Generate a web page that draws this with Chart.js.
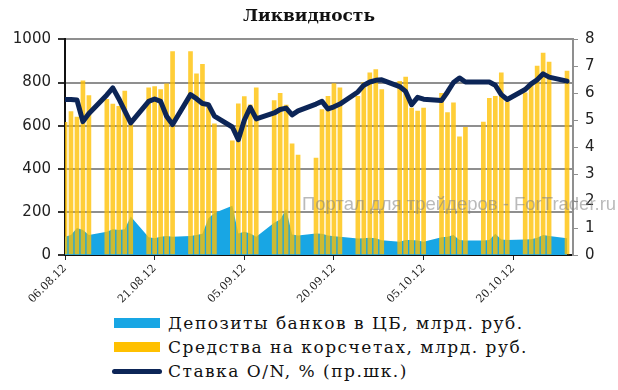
<!DOCTYPE html>
<html>
<head>
<meta charset="utf-8">
<script src="https://cdn.jsdelivr.net/npm/chart.js@4"></script>
<style>
  body { margin: 0; background: #fff; }
  #wrap { position: relative; width: 618px; height: 390px; }
  #box { position: absolute; left: 0; top: 0; width: 618px; height: 310px; }
  #legend { position: absolute; left: 112px; top: 311px; font-family: 'DejaVu Serif', serif; font-size: 17px; letter-spacing: 1.5px; color: #111; }
  .row { display: flex; align-items: center; height: 24px; }
  .sw { width: 50px; margin-right: 6px; display: flex; justify-content: center; }
</style>
</head>
<body>
<div id="wrap">
  <div id="box"><canvas id="liqChart"></canvas></div>
  <div id="legend"></div>
</div>
<script>
// Рабочие дни
const days = [
  '06.08.12', '07.08.12', '08.08.12', '09.08.12', '10.08.12',
  '13.08.12', '14.08.12', '15.08.12', '16.08.12', '17.08.12',
  '20.08.12', '21.08.12', '22.08.12', '23.08.12', '24.08.12',
  '27.08.12', '28.08.12', '29.08.12', '30.08.12', '31.08.12',
  '03.09.12', '04.09.12', '05.09.12', '06.09.12', '07.09.12',
  '10.09.12', '11.09.12', '12.09.12', '13.09.12', '14.09.12',
  '17.09.12', '18.09.12', '19.09.12', '20.09.12', '21.09.12',
  '24.09.12', '25.09.12', '26.09.12', '27.09.12', '28.09.12',
  '01.10.12', '02.10.12', '03.10.12', '04.10.12', '05.10.12',
  '08.10.12', '09.10.12', '10.10.12', '11.10.12', '12.10.12',
  '15.10.12', '16.10.12', '17.10.12', '18.10.12', '19.10.12',
  '22.10.12', '23.10.12', '24.10.12', '25.10.12', '26.10.12',
  '29.10.12'
];

// Депозиты банков в ЦБ, млрд. руб.
const deposits = [
  85, 93, 125, 116, 93,
  108, 120, 116, 120, 178,
  82, 78, 85, 88, 85,
  88, 93, 98, 170, 195,
  228, 100, 108, 100, 85,
  150, 165, 212, 95, 90,
  100, 98, 90, 87, 85,
  77, 78, 80, 78, 68,
  62, 70, 70, 67, 62,
  82, 85, 93, 70, 67,
  67, 70, 98, 72, 70,
  72, 73, 80, 93, 88,
  78
];

// Средства на корсчетах, млрд. руб.
const balances = [
  615, 665, 640, 808, 740,
  722, 700, 690, 760, 605,
  775, 781, 767, 794, 943,
  943, 840, 884, 698, 608,
  530, 701, 735, 696, 775,
  716, 750, 695, 516, 463,
  449, 674, 736, 795, 775,
  736, 800, 845, 860, 767,
  806, 825, 682, 667, 682,
  750, 660, 706, 548, 592,
  616, 727, 736, 845, 710,
  752, 794, 876, 937, 895,
  853
];

// Ставка O/N, %
const rate = [
  5.77, 5.77, 5.75, 4.95, 5.25,
  5.94, 6.2, 5.8, 5.35, 4.9,
  5.7, 5.79, 5.7, 5.15, 4.84,
  5.95, 5.8, 5.62, 5.58, 5.15,
  4.75, 4.28, 5.0, 5.48, 5.05,
  5.27, 5.4, 5.45, 5.2, 5.35,
  5.6, 5.7, 5.42, 5.5, 5.6,
  6.05, 6.3, 6.42, 6.48, 6.5,
  6.25, 6.07, 5.58, 5.85, 5.78,
  5.73, 6.05, 6.4, 6.57, 6.42,
  6.42, 6.42, 6.3, 5.95, 5.77,
  6.14, 6.35, 6.5, 6.72, 6.6,
  6.45
];

// Подписи оси X (каждые 15 дней)
const tickLabels = ['06.08.12', '21.08.12', '05.09.12', '20.09.12', '05.10.12', '20.10.12'];
const lastDay = '30.10.12';

// номер календарного дня от начала
function dayNo(s) {
  const [d, m, y] = s.split('.').map(Number);
  const [d0, m0, y0] = tickLabels[0].split('.').map(Number);
  return Math.round((Date.UTC(2000 + y, m - 1, d) - Date.UTC(2000 + y0, m0 - 1, d0)) / 86400000);
}
const pts = arr => arr.map((v, i) => ({ x: dayNo(days[i]), y: v }));

const watermark = {
  id: 'watermark',
  afterDatasetsDraw(chart) {
    const ctx = chart.ctx;
    ctx.save();
    ctx.font = '18.5px "Liberation Sans", Arial, sans-serif';
    ctx.fillStyle = 'rgba(130,130,130,0.55)';
    ctx.textBaseline = 'middle';
    ctx.fillText('Портал для трейдеров - ForTrader.ru', 302, 205);
    ctx.restore();
  }
};

const gridGrey = '#8f8f8f';

const ctx = document.getElementById('liqChart').getContext('2d');
const liqChart = new Chart(ctx, {
  type: 'bar',
  data: {
    datasets: [
      {
        type: 'line',
        label: 'Депозиты банков в ЦБ, млрд. руб.',
        data: pts(deposits),
        yAxisID: 'y',
        fill: 'origin',
        backgroundColor: '#18a6e4',
        borderColor: '#18a6e4',
        borderWidth: 0,
        pointRadius: 0,
        tension: 0,
        order: 3
      },
      {
        type: 'bar',
        label: 'Средства на корсчетах, млрд. руб.',
        data: pts(balances),
        yAxisID: 'y',
        backgroundColor: 'rgba(255,192,0,0.78)',
        legendColor: '#ffc000',
        barThickness: 4,
        order: 2
      },
      {
        type: 'line',
        label: 'Ставка O/N, % (пр.шк.)',
        data: pts(rate),
        yAxisID: 'y2',
        borderColor: '#0c2557',
        borderWidth: 5,
        pointRadius: 0,
        borderJoinStyle: 'round',
        borderCapStyle: 'round',
        tension: 0,
        order: 1
      }
    ]
  },
  options: {
    responsive: true,
    maintainAspectRatio: false,
    animation: false,
    layout: { padding: 0 },
    plugins: {
      legend: { display: false },
      tooltip: { enabled: false },
      title: {
        display: true,
        text: 'Ликвидность',
        color: '#111',
        font: { family: 'DejaVu Serif', size: 17, weight: 'bold' },
        padding: { top: 6, bottom: 13 }
      }
    },
    scales: {
      x: {
        type: 'linear',
        min: 0,
        max: dayNo(lastDay),
        offset: false,
        afterFit: s => { s.height = 55; },
        grid: { drawOnChartArea: false, offset: false, color: '#222', tickLength: 5 },
        border: { color: '#111', width: 2 },
        ticks: {
          stepSize: 15,
          autoSkip: false,
          minRotation: 45,
          maxRotation: 45,
          padding: 2,
          color: '#222',
          font: { family: 'DejaVu Serif', size: 11 },
          callback: v => tickLabels[v / 15]
        }
      },
      y: {
        position: 'left',
        min: 0,
        max: 1000,
        afterFit: s => { s.width = 65; },
        grid: { color: gridGrey, lineWidth: 2, tickColor: '#333', tickLength: 7 },
        border: { color: '#111', width: 2 },
        ticks: {
          stepSize: 200,
          padding: 7,
          color: '#222',
          font: { family: 'DejaVu Sans', size: 15 },
          callback: v => String(v)
        }
      },
      y2: {
        position: 'right',
        min: 0,
        max: 8,
        afterFit: s => { s.width = 45; },
        grid: { drawOnChartArea: false, color: gridGrey, tickLength: 5 },
        border: { color: gridGrey, width: 2 },
        ticks: {
          stepSize: 1,
          padding: 7,
          color: '#222',
          font: { family: 'DejaVu Sans', size: 15 }
        }
      }
    }
  },
  plugins: [watermark]
});

// Легенда
const legendEl = document.getElementById('legend');
liqChart.data.datasets.forEach(ds => {
  const row = document.createElement('div');
  row.className = 'row';
  const sw = document.createElement('div');
  sw.className = 'sw';
  const mark = document.createElement('div');
  if (ds.type === 'line' && ds.yAxisID === 'y2') {
    mark.style.cssText = `width:50px;height:5px;border-radius:3px;background:${ds.borderColor}`;
  } else {
    mark.style.cssText = `width:46px;height:10px;background:${ds.legendColor || ds.backgroundColor}`;
  }
  sw.appendChild(mark);
  const txt = document.createElement('span');
  txt.textContent = ds.label;
  row.appendChild(sw);
  row.appendChild(txt);
  legendEl.appendChild(row);
});
</script>
</body>
</html>
